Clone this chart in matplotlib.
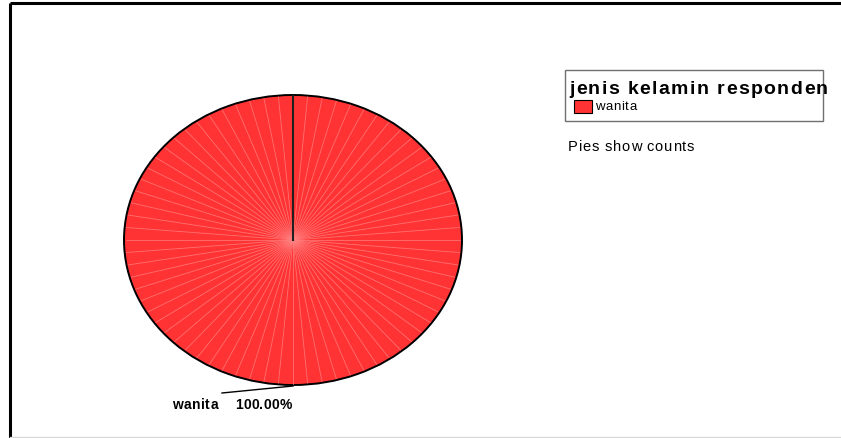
import matplotlib.pyplot as plt
import numpy as np

# data
categories = ["wanita"]
counts = [100]
percent_labels = ["100.00%"]
legend_title = "jenis kelamin responden"
note = "Pies show counts"

W, H = 841, 439
fig = plt.figure(figsize=(W / 100, H / 100), dpi=100)
renderer = fig.canvas.get_renderer()

# background axes in pixel coords for frame and texts
bg = fig.add_axes([0, 0, 1, 1])
bg.set_xlim(0, W)
bg.set_ylim(H, 0)
bg.axis("off")


def spaced_text(x, y, s, size, width, weight="normal"):
    # draw text char by char, spread out to the given pixel width
    kw = dict(fontsize=size, fontweight=weight, va="center", ha="left", family="Liberation Sans")
    widths = []
    for ch in s:
        t = bg.text(0, 0, ch if ch != " " else "i", **kw)
        widths.append(t.get_window_extent(renderer).width)
        t.remove()
    gap = (width - sum(widths)) / max(len(s) - 1, 1)
    for ch, w in zip(s, widths):
        if ch != " ":
            bg.text(x, y, ch, **kw)
        x += w + gap


# outer frame
bg.plot([10, 10], [4, H], color="black", lw=2.2, solid_capstyle="butt")
bg.plot([10, W], [4, 4], color="black", lw=2.2, solid_capstyle="butt")
bg.plot([10, W], [438, 438], color="#d8d8d8", lw=1)

# pie, stretched into an ellipse
left, right, top, bottom = 124, 462, 96, 386
pax = fig.add_axes([left / W, (H - bottom) / H, (right - left) / W, (bottom - top) / H])
wedges, _ = pax.pie(counts, colors=["#ff3333"], startangle=90, radius=1,
                    wedgeprops=dict(edgecolor="black", linewidth=1.4))
pax.set_aspect("auto")
pax.set_xlim(-1.0, 1.0)
pax.set_ylim(-1.0, 1.0)

# light radial shading lines
for a in np.arange(0, 360, 5):
    t = np.radians(a)
    pax.plot([0, np.cos(t) * 0.99], [0, np.sin(t) * 0.99], color="#ff8080", lw=0.6, alpha=0.8)
pax.plot([0, 0], [0, 1], color="#202020", lw=1.5)

# slice label
bg.plot([222, 293], [394, 387], color="black", lw=1)
spaced_text(172, 405, categories[0], 10, 46, weight="bold")
spaced_text(235, 405, percent_labels[0], 10, 57, weight="bold")

# legend box
bg.add_patch(plt.Rectangle((565, 71), 258, 51, facecolor="white", edgecolor="#707070", lw=1))
spaced_text(569, 89, legend_title, 14, 259, weight="bold")
bg.add_patch(plt.Rectangle((574, 101), 18, 13, facecolor="#ff3333", edgecolor="black", lw=0.8))
spaced_text(595, 107.5, categories[0], 9.5, 42)
spaced_text(568, 147, note, 10.5, 126)

fig.savefig("out.png", dpi=100)
